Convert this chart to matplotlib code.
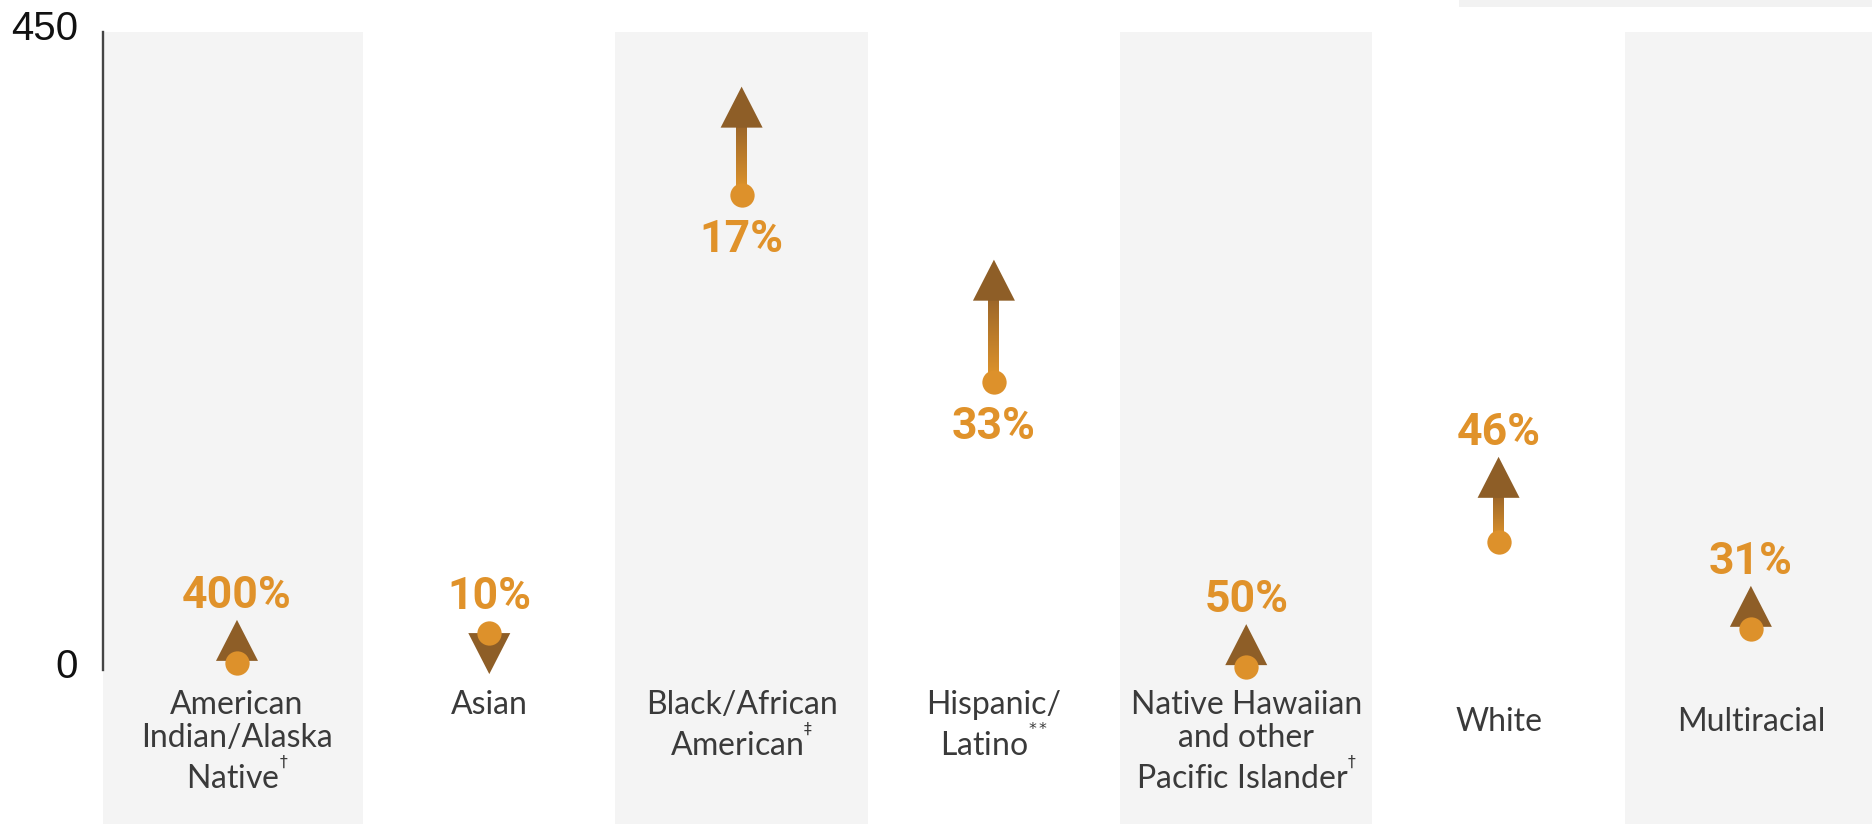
import numpy as np
import matplotlib
matplotlib.use("Agg")
import matplotlib.pyplot as plt
import matplotlib.patches as mpatches
import matplotlib.transforms as mtransforms
from matplotlib.colors import LinearSegmentedColormap

# Groups along the x axis
categories = [
    "American\nIndian/Alaska\nNative$^{{}^{\\dagger}}$",
    "Asian",
    "Black/African\nAmerican$^{{}^{\\ddagger}}$",
    "Hispanic/\nLatino$^{{}^{**}}$",
    "Native Hawaiian\nand other\nPacific Islander$^{{}^{\\dagger}}$",
    "White",
    "Multiracial",
]
# Earlier value (dot) and later value (arrow head)
start_vals = [5, 26, 335, 203, 2, 90, 29]
end_vals = [25, 23.4, 392, 270, 3, 131, 38]
# Where the percent label sits relative to the arrow
label_side = ["above", "above", "below", "below", "above", "above", "above"]
# Extra drop (px) for the single-line labels on the right
label_drop_px = [0, 0, 0, 0, 0, 17, 17]
y_ticks = [0, 450]

ORANGE = "#dd912b"
BROWN = "#8e5e27"
TEXT_ORANGE = "#e0922a"
BAND = "#f4f4f4"

W, H, DPI = 1872, 824, 100
fig = plt.figure(figsize=(W / DPI, H / DPI), dpi=DPI)
ax = fig.add_axes([103 / W, 0.0, 1 - 103 / W, 1 - 31.7 / H])
xlim = (-0.531, 6.48)
ylim = (-108.6, 450)

# px -> data unit helpers
pos = ax.get_position()
ax_w_px = pos.width * W
ax_h_px = pos.height * H
def px_x(p):
    return p * (xlim[1] - xlim[0]) / ax_w_px
def px_y(p):
    return p * (ylim[1] - ylim[0]) / ax_h_px

# alternating grey bands
for i in range(0, len(categories), 2):
    lo = i - 0.5 if i > 0 else xlim[0] - 1
    ax.axvspan(lo, i + 0.5, color=BAND, lw=0, zorder=0)

shaft_cmap = LinearSegmentedColormap.from_list("shaft", ["#e3972b", "#9c6629"])
grad = np.linspace(0, 1, 256).reshape(-1, 1)

head_w = px_x(42)
head_h = px_y(41)
shaft_w = px_x(11)
dot_r = px_y(12)
gap = px_y(12)
pct_font = ["Liberation Sans Narrow", "Roboto", "DejaVu Sans"]

for i, (s, e) in enumerate(zip(start_vals, end_vals)):
    up = e >= s
    if up:
        if e - s < head_h:
            # change too small for a shaft: head sits on the dot
            base = s + px_y(2)
        else:
            base = e - head_h / 3
        tip = base + head_h
        top = tip
        if base > s:
            ax.imshow(grad, extent=(i - shaft_w / 2, i + shaft_w / 2, s, base + px_y(1)),
                      origin="lower", cmap=shaft_cmap, aspect="auto",
                      interpolation="bilinear", zorder=3)
    else:
        if s - e < head_h:
            base = s
        else:
            base = e + head_h / 3
        tip = base - head_h
        top = s + dot_r
    head = mpatches.Polygon([(i - head_w / 2, base), (i + head_w / 2, base), (i, tip)],
                            closed=True, facecolor=BROWN, edgecolor="none", zorder=4)
    ax.add_patch(head)
    ax.plot(i, s, "o", ms=17.5, color=ORANGE, mec="none", zorder=5)

    pct = (e - s) / s * 100
    txt = f"{abs(round(pct)):d}%"
    if label_side[i] == "above":
        ax.text(i, top + gap, txt, ha="center", va="baseline", fontsize=32,
                fontweight="bold", color=TEXT_ORANGE, family=pct_font, zorder=6)
    else:
        ax.text(i, s - dot_r - gap, txt, ha="center", va="top", fontsize=32,
                fontweight="bold", color=TEXT_ORANGE, family=pct_font, zorder=6)

    ax.text(i, -px_y(20 + label_drop_px[i]), categories[i], ha="center", va="top",
            fontsize=23, fontweight="normal", color="#3a3a3a", linespacing=1.12,
            family=["Lato", "DejaVu Sans"], zorder=6)

ax.set_xlim(*xlim)
ax.set_ylim(*ylim)
ax.set_xticks([])
ax.set_yticks(y_ticks)
ax.set_yticklabels([str(t) for t in y_ticks], family=["Liberation Sans", "DejaVu Sans"],
                   fontsize=29, color="#111111")
ax.tick_params(axis="y", length=0, pad=18)
for lab in ax.get_yticklabels():
    lab.set_transform(lab.get_transform() +
                      mtransforms.ScaledTranslation(0, 0.07, fig.dpi_scale_trans))

for side in ("top", "right", "bottom"):
    ax.spines[side].set_visible(False)
ax.spines["left"].set_bounds(0, 450)
ax.spines["left"].set_color("#444444")
ax.spines["left"].set_linewidth(1.7)
ax.patch.set_visible(False)

# strip of the box sitting above the plot on the right
fig.add_artist(mpatches.Rectangle((1459 / W, 1 - 7 / H), 1, 7 / H, transform=fig.transFigure,
                                  facecolor="#f2f2f2", edgecolor="none"))

fig.savefig("out.png", dpi=DPI)
